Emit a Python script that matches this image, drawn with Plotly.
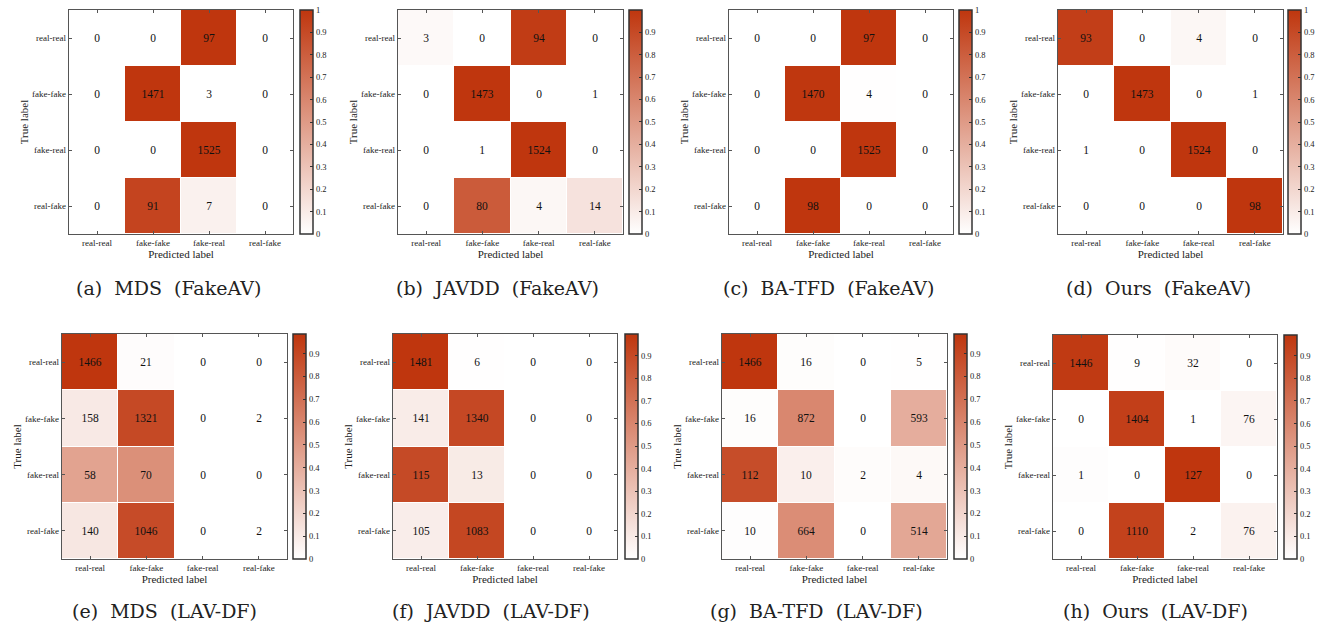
import plotly.graph_objects as go

labels = ["real-real", "fake-fake", "fake-real", "real-fake"]

mds_fakeav = [[0, 0, 97, 0], [0, 1471, 3, 0], [0, 0, 1525, 0], [0, 91, 7, 0]]
javdd_fakeav = [[3, 0, 94, 0], [0, 1473, 0, 1], [0, 1, 1524, 0], [0, 80, 4, 14]]
batfd_fakeav = [[0, 0, 97, 0], [0, 1470, 4, 0], [0, 0, 1525, 0], [0, 98, 0, 0]]
ours_fakeav = [[93, 0, 4, 0], [0, 1473, 0, 1], [1, 0, 1524, 0], [0, 0, 0, 98]]
mds_lavdf = [[1466, 21, 0, 0], [158, 1321, 0, 2], [58, 70, 0, 0], [140, 1046, 0, 2]]
javdd_lavdf = [[1481, 6, 0, 0], [141, 1340, 0, 0], [115, 13, 0, 0], [105, 1083, 0, 0]]
batfd_lavdf = [[1466, 16, 0, 5], [16, 872, 0, 593], [112, 10, 2, 4], [10, 664, 0, 514]]
ours_lavdf = [[1446, 9, 32, 0], [0, 1404, 1, 76], [1, 0, 127, 0], [0, 1110, 2, 76]]

captions = ["(a)  MDS  (FakeAV)", "(b)  JAVDD  (FakeAV)", "(c)  BA-TFD  (FakeAV)", "(d)  Ours  (FakeAV)",
            "(e)  MDS  (LAV-DF)", "(f)  JAVDD  (LAV-DF)", "(g)  BA-TFD  (LAV-DF)", "(h)  Ours  (LAV-DF)"]
matrices = [mds_fakeav, javdd_fakeav, batfd_fakeav, ours_fakeav,
            mds_lavdf, javdd_lavdf, batfd_lavdf, ours_lavdf]

W, H = 1326, 627
# pixel layout: heatmap (left, right, top, bottom), colorbar left, caption center x, caption y
panels = [
    (69, 293, 10, 234, 300, 168, 288),
    (398, 623, 10, 234, 629, 497, 288),
    (729, 953, 10, 234, 959, 828, 288),
    (1058, 1283, 10, 234, 1288, 1158, 288),
    (62, 287, 334, 559, 293, 164, 611),
    (393, 617, 334, 559, 625, 491, 611),
    (722, 947, 334, 559, 954, 816, 611),
    (1053, 1277, 335, 559, 1284, 1155, 611),
]

def px(v):
    return v / W

def py(v):
    return 1 - v / H

RED = "rgb(191,54,14)"
colorscale = [[0, "rgb(255,255,255)"], [1, RED]]
SERIF = "Liberation Serif"
CAPFONT = "DejaVu Serif"

fig = go.Figure()
annotations = []
layout = {}
for i, (m, cap, p) in enumerate(zip(matrices, captions, panels)):
    l, r, t, b, cbx, capx, capy = p
    norm = [[v / sum(row) if sum(row) else 0 for v in row] for row in m]
    zmax = max(max(row) for row in norm)
    ticks = [k / 10 for k in range(11) if k / 10 <= zmax + 1e-9]
    n = "" if i == 0 else str(i + 1)
    fig.add_trace(go.Heatmap(
        z=norm, x=labels, y=labels, text=m, texttemplate="%{text}",
        textfont=dict(family=SERIF, size=11.5, color="#111"),
        colorscale=colorscale, zmin=0, zmax=zmax, xgap=1, ygap=1,
        xaxis="x" + n, yaxis="y" + n, hoverinfo="skip",
        colorbar=dict(
            x=px(cbx), xanchor="left", xpad=0, ypad=0,
            y=py(b), yanchor="bottom", len=(b - t) / H, lenmode="fraction",
            thickness=13, thicknessmode="pixels",
            outlinecolor="#333", outlinewidth=1.5,
            tickvals=ticks, ticktext=[("%g" % v) for v in ticks],
            ticks="inside", ticklen=3, tickcolor="#333",
            tickfont=dict(family=SERIF, size=8.5, color="#222"),
        ),
    ))
    axfont = dict(family=SERIF, size=9, color="#222")
    layout["xaxis" + n] = dict(
        domain=[px(l), px(r)], anchor="y" + n, type="category",
        showline=True, linecolor="#555", linewidth=1.3, mirror="ticks",
        ticks="inside", ticklen=3, tickcolor="#555", tickfont=axfont,
        showgrid=False, zeroline=False,
        title=dict(text="Predicted label", font=dict(family=SERIF, size=11, color="#222"), standoff=2),
    )
    layout["yaxis" + n] = dict(
        domain=[py(b), py(t)], anchor="x" + n, type="category",
        autorange="reversed",
        showline=True, linecolor="#555", linewidth=1.3, mirror="ticks",
        ticks="inside", ticklen=3, tickcolor="#555", tickfont=axfont,
        showgrid=False, zeroline=False,
        title=dict(text="True label", font=dict(family=SERIF, size=11, color="#222"), standoff=1),
    )
    annotations.append(dict(
        text=cap, x=px(capx), y=py(capy), xref="paper", yref="paper",
        xanchor="center", yanchor="middle", showarrow=False,
        font=dict(family=CAPFONT, size=19, color="#222"),
    ))

fig.update_layout(
    width=W, height=H, margin=dict(l=0, r=0, t=0, b=0),
    paper_bgcolor="white", plot_bgcolor="white",
    font=dict(family=SERIF),
    annotations=annotations, **layout,
)
fig.write_html("out.html", config={"displayModeBar": False},
               post_script="document.body.style.margin='0';")
